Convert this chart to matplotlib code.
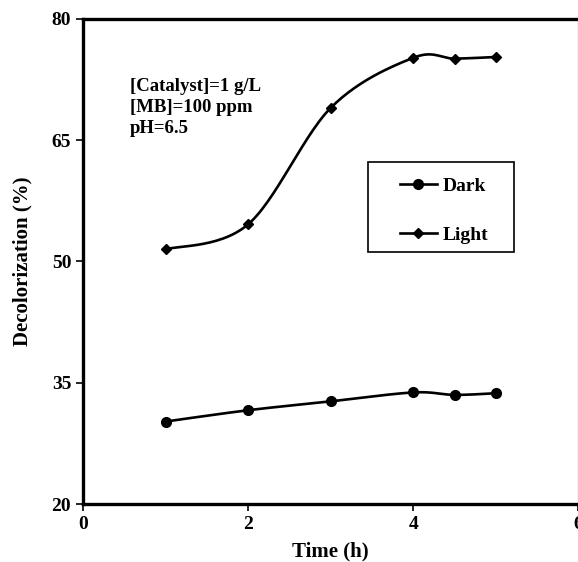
import matplotlib
matplotlib.use("Agg")
import matplotlib.pyplot as plt
from matplotlib.patches import Rectangle
import numpy as np

time_h = [1, 2, 3, 4, 4.5, 5]
dark = [30.2, 31.6, 32.7, 33.8, 33.5, 33.7]
light = [51.5, 54.6, 69.0, 75.2, 75.1, 75.3]

x_ticks = [0, 2, 4, 6]
y_ticks = [20, 35, 50, 65, 80]


def smooth(xs, ys, n=30):
    """Catmull-Rom curve through the points, like Excel's smoothed line."""
    p = np.column_stack([xs, ys]).astype(float)
    p = np.vstack([p[0], p, p[-1]])
    out = []
    t = np.linspace(0, 1, n)[:, None]
    for i in range(1, len(p) - 2):
        p0, p1, p2, p3 = p[i - 1], p[i], p[i + 1], p[i + 2]
        seg = 0.5 * ((2 * p1) + (-p0 + p2) * t
                     + (2 * p0 - 5 * p1 + 4 * p2 - p3) * t ** 2
                     + (-p0 + 3 * p1 - 3 * p2 + p3) * t ** 3)
        out.append(seg)
    out = np.vstack(out)
    return out[:, 0], out[:, 1]


plt.rcParams["font.family"] = ["Liberation Serif", "DejaVu Serif"]
plt.rcParams["font.weight"] = "bold"

fig = plt.figure(figsize=(5.78, 5.62), dpi=100)
ax = fig.add_axes([0.1436, 0.1032, 0.857, 0.863])

for ys, mk, ms, lab in [(dark, "o", 7, "Dark"), (light, "D", 5.5, "Light")]:
    sx, sy = smooth(time_h, ys)
    ax.plot(sx, sy, color="black", lw=1.9)
    ax.plot(time_h, ys, ls="none", marker=mk, ms=ms, color="black")
    ax.plot([], [], color="black", lw=1.9, marker=mk, ms=ms, label=lab)

ax.set_xlim(0, 6)
ax.set_ylim(20, 80)
ax.set_xticks(x_ticks)
ax.set_yticks(y_ticks)
ax.tick_params(direction="out", length=5, width=1.2, labelsize=14)
for s in ax.spines.values():
    s.set_linewidth(2.4)
ax.spines["right"].set_linewidth(0.8)

ax.set_xlabel("Time (h)", fontsize=15, fontweight="bold", labelpad=6)
ax.set_ylabel("Decolorization (%)", fontsize=15, fontweight="bold", labelpad=14)

ax.text(0.095, 0.878, "[Catalyst]=1 g/L\n[MB]=100 ppm\npH=6.5",
        transform=ax.transAxes, fontsize=13.5, fontweight="bold",
        va="top", ha="left", linespacing=1.3)

# legend box drawn separately so the padding matches the original
ax.add_patch(Rectangle((0.576, 0.5196), 0.295, 0.1856, transform=ax.transAxes,
                       fill=False, edgecolor="black", lw=1.2, zorder=4))
leg = ax.legend(loc="upper left", bbox_to_anchor=(0.640, 0.673),
                fontsize=14, frameon=False, labelspacing=1.6,
                handlelength=1.9, borderpad=0, borderaxespad=0,
                handletextpad=0.3)
for t in leg.get_texts():
    t.set_fontweight("bold")

fig.savefig("out.png", dpi=100)
